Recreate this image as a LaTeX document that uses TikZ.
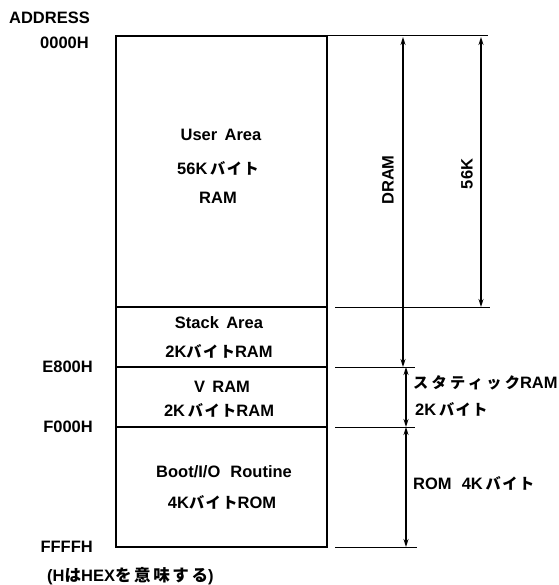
\documentclass[tikz,border=0pt]{standalone}
\usepackage{fontspec}
\setmainfont{Liberation Sans}
\newfontfamily\jp[LetterSpace=10,Scale=0.92]{Noto Sans CJK JP}
\newfontfamily\jpw[LetterSpace=22,Scale=0.92]{Noto Sans CJK JP}
\newfontfamily\jpn[LetterSpace=16]{Noto Sans CJK JP}
\usetikzlibrary{arrows.meta}
\begin{document}
\begin{tikzpicture}[x=1pt,y=-1pt,
  lbl/.style={font=\fontsize{16.5}{18}\selectfont\bfseries, inner sep=0pt},
  txt/.style={font=\fontsize{16.5}{18}\selectfont\bfseries, inner sep=0pt},
  region/.style={draw, line width=1.8pt, inner sep=0pt, outer sep=0pt},
  ext/.style={line width=1pt},
  dim/.style={line width=1.2pt, {Stealth[length=8pt,width=5pt]}-{Stealth[length=8pt,width=5pt]}}]
\useasboundingbox (0,0) rectangle (558,585);
% regions
\node[region, minimum width=211pt, minimum height=271pt] (user) at (221.5,171.5) {};
\node[region, minimum width=211pt, minimum height=60pt] (stack) at (221.5,337) {};
\node[region, minimum width=211pt, minimum height=60pt] (vram) at (221.5,397) {};
\node[region, minimum width=211pt, minimum height=120pt] (boot) at (221.5,487) {};
% region texts
\node[txt] (t1) at (221,135) {User\, Area};
\node[txt] (t2) at (218,168) {56K\,{\jp バイト}};
\node[txt] (t3) at (218,198) {RAM};
\node[txt] (t4) at (219,323) {Stack\, Area};
\node[txt] (t5) at (219,351) {2K{\jp バイト}RAM};
\node[txt] (t6) at (222,387) {V\, RAM};
\node[txt] (t7) at (219,410) {2K\,{\jp バイト}RAM};
\node[txt] (t8) at (224,472) {Boot/I/O\,\, Routine};
\node[txt] (t9) at (222,502) {4K{\jp バイト}ROM};
% address labels
\node[lbl, anchor=east] (addr) at (90,18) {ADDRESS};
\node[lbl, anchor=east] (a0) at (89,43) {0000H};
\node[lbl, anchor=east] (a1) at (93,367) {E800H};
\node[lbl, anchor=east] (a2) at (93,427) {F000H};
\node[lbl, anchor=east] (a3) at (93,547) {FFFFH};
\node[txt, anchor=west] (note) at (47,576) {(H{\jpn は}HEX{\jpn を意味する})};
% extension lines
\coordinate (e0a) at (327,36);   \coordinate (e0b) at (488,36);
\coordinate (e1a) at (335,307);  \coordinate (e1b) at (490,307);
\coordinate (e2a) at (335,367);  \coordinate (e2b) at (415,367);
\coordinate (e3a) at (335,427);  \coordinate (e3b) at (415,427);
\coordinate (e4a) at (335,547);  \coordinate (e4b) at (417,547);
\foreach \i in {0,...,4} \draw[ext] (e\i a) -- (e\i b);
% dimension arrows
\coordinate (d1a) at (403,37);  \coordinate (d1b) at (403,367);
\coordinate (d2a) at (481,37);  \coordinate (d2b) at (481,307);
\coordinate (d3a) at (406,367); \coordinate (d3b) at (406,427);
\coordinate (d4a) at (406,427); \coordinate (d4b) at (406,547);
\draw[dim] (d1a) -- (d1b);
\draw[dim] (d2a) -- (d2b);
\draw[dim] (d3a) -- (d3b);
\draw[dim] (d4a) -- (d4b);
\node[lbl, rotate=90] (dram) at (388,180) {DRAM};
\node[lbl, rotate=90] (k56) at (467,174) {56K};
\node[txt, anchor=west] (sram) at (413,383) {{\jpw スタティック}RAM};
\node[txt, anchor=west] (sram2) at (415,409) {2K\,{\jp バイト}};
\node[txt, anchor=west] (rom) at (413,483) {ROM\,\, 4K\,{\jp バイト}};
\end{tikzpicture}
\end{document}
